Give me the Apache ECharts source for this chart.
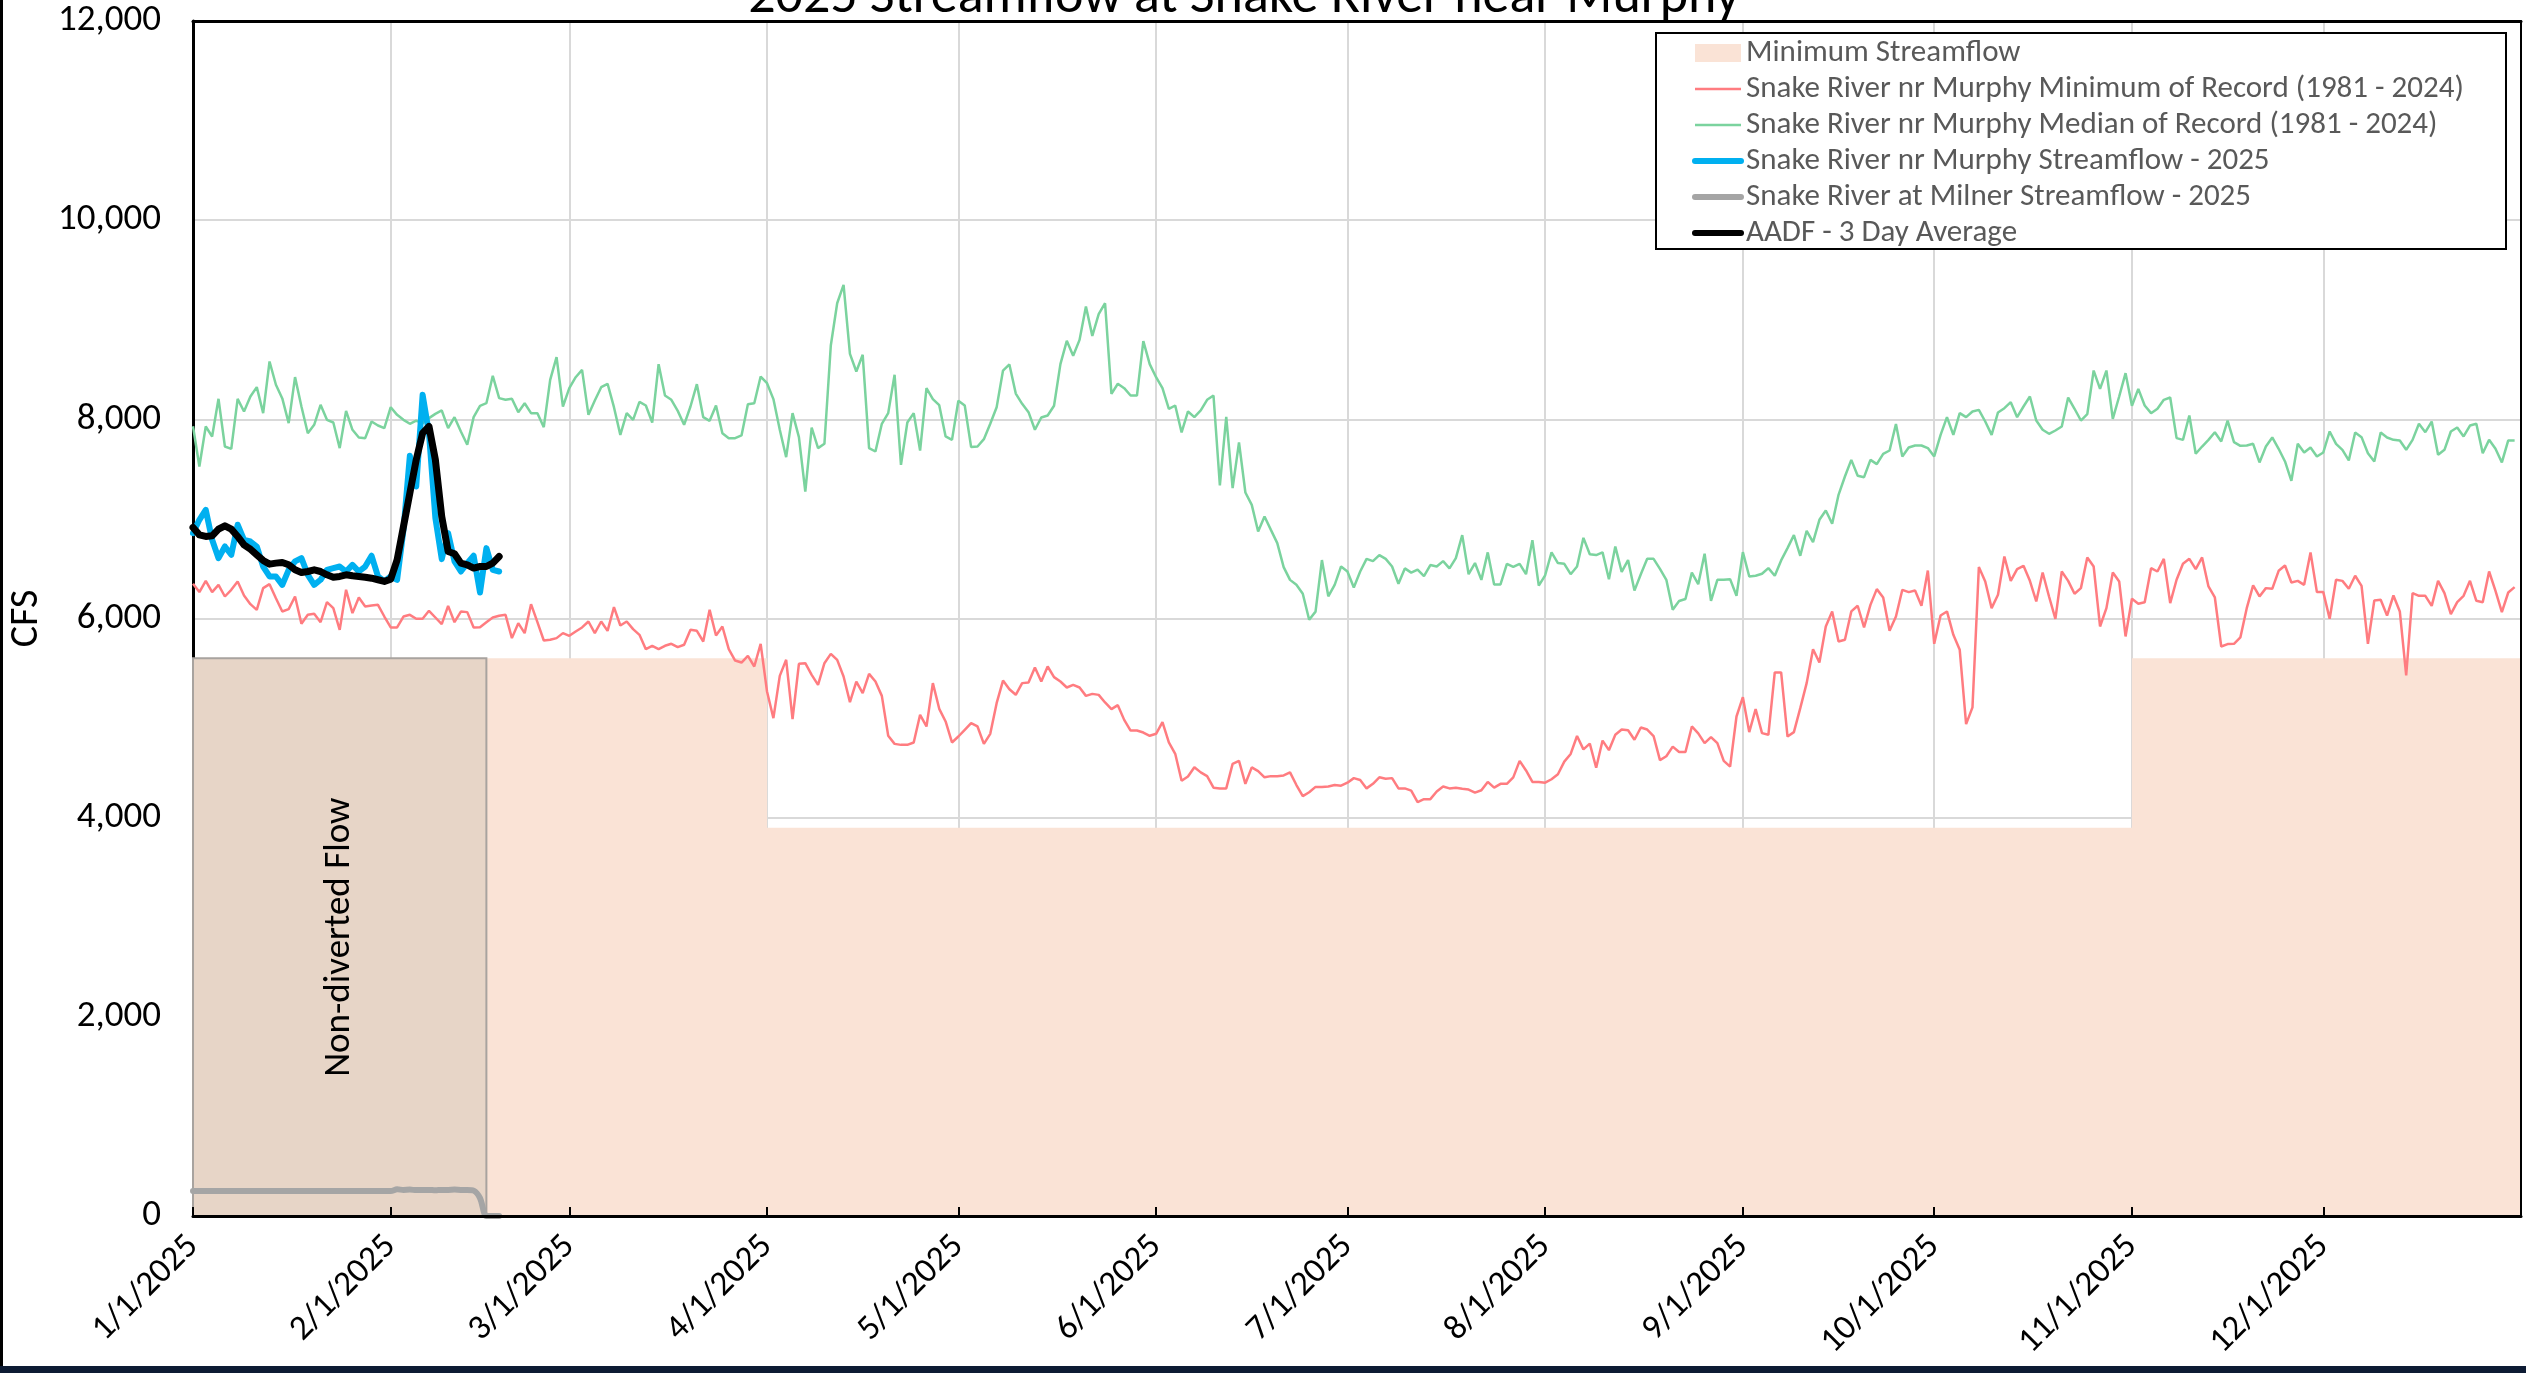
<!DOCTYPE html>
<html>
<head>
<meta charset="utf-8">
<title>2025 Streamflow at Snake River near Murphy</title>
<script src="https://cdn.jsdelivr.net/npm/echarts@6/dist/echarts.min.js"></script>
<style>
html, body { margin: 0; padding: 0; background: #fff; }
#chart { width: 2526px; height: 1373px; }
</style>
</head>
<body>
<div id="chart"></div>
<script>
// daily categories 1/1/2025 .. 1/1/2026
var dates = [];
for (var i = 0; i <= 365; i++) {
  var dt = new Date(Date.UTC(2025, 0, 1 + i));
  dates.push((dt.getUTCMonth() + 1) + "/" + dt.getUTCDate() + "/" + dt.getUTCFullYear());
}

var yTicks = [0, 2000, 4000, 6000, 8000, 10000, 12000];

// minimum streamflow requirement (step)
var minFlowDates = ["1/1/2025", "4/1/2025", "11/1/2025", "1/1/2026"];
var minFlowValues = [5600, 3900, 5600, 5600];

// non-diverted flow window
var nonDivertedStart = "1/1/2025";
var nonDivertedEnd = "2/16/2025";

// Snake River nr Murphy minimum of record (1981 - 2024), daily from 1/1
var minRecord = [
  6348, 6265, 6378, 6265, 6338, 6221, 6288, 6372, 6231, 6144, 6087, 6305, 6345, 6204, 6070, 6094, 6221, 5947, 6037, 6047,
  5963, 6164, 6104, 5886, 6288, 6054, 6211, 6121, 6131, 6137, 6020, 5910, 5910, 6020, 6037, 5997, 5997, 6077, 6010, 5943,
  6127, 5963, 6070, 6064, 5910, 5913, 5963, 6010, 6027, 6037, 5803, 5953, 5853, 6144, 5963, 5779, 5786, 5803, 5853, 5826,
  5870, 5910, 5970, 5853, 5970, 5876, 6114, 5930, 5970, 5893, 5836, 5692, 5726, 5692, 5726, 5746, 5712, 5736, 5886, 5876,
  5769, 6087, 5829, 5920, 5692, 5578, 5558, 5625, 5518, 5746, 5267, 4999, 5424, 5585, 4989, 5545, 5551, 5434, 5334, 5551,
  5645, 5585, 5418, 5160, 5367, 5250, 5444, 5367, 5223, 4822, 4741, 4731, 4731, 4755, 5033, 4916, 5351, 5093, 4966, 4755,
  4815, 4882, 4949, 4916, 4741, 4842, 5150, 5377, 5290, 5234, 5351, 5357, 5508, 5367, 5518, 5411, 5367, 5307, 5334, 5307,
  5223, 5243, 5233, 5157, 5090, 5130, 4982, 4875, 4875, 4855, 4822, 4842, 4959, 4755, 4641, 4370, 4413, 4507, 4455, 4417,
  4301, 4294, 4294, 4540, 4570, 4340, 4505, 4467, 4405, 4417, 4417, 4424, 4455, 4328, 4217, 4255, 4309, 4309, 4313, 4328,
  4321, 4351, 4397, 4378, 4294, 4340, 4405, 4390, 4397, 4294, 4294, 4271, 4156, 4186, 4186, 4263, 4313, 4294, 4301, 4290,
  4282, 4252, 4275, 4359, 4301, 4340, 4340, 4405, 4570, 4474, 4359, 4359, 4351, 4386, 4436, 4563, 4640, 4820, 4686, 4743,
  4501, 4774, 4678, 4832, 4885, 4878, 4782, 4905, 4885, 4820, 4578, 4617, 4713, 4659, 4659, 4916, 4847, 4748, 4809, 4748,
  4570, 4513, 5016, 5210, 4859, 5090, 4849, 4832, 5458, 5458, 4815, 4859, 5100, 5351, 5692, 5558, 5920, 6071, 5769, 5786,
  6071, 6128, 5910, 6137, 6295, 6211, 5876, 6020, 6288, 6265, 6281, 6127, 6482, 5746, 6030, 6071, 5836, 5686, 4939, 5107,
  6516, 6372, 6104, 6238, 6623, 6378, 6496, 6529, 6378, 6171, 6462, 6221, 5997, 6472, 6378, 6248, 6305, 6613, 6522, 5920,
  6104, 6462, 6372, 5820, 6198, 6148, 6164, 6506, 6472, 6599, 6154, 6389, 6549, 6599, 6496, 6613, 6322, 6211, 5719, 5743,
  5746, 5810, 6104, 6332, 6221, 6305, 6298, 6479, 6532, 6362, 6378, 6338, 6663, 6265, 6265, 5997, 6389, 6378, 6298, 6429,
  6328, 5746, 6181, 6188, 6030, 6231, 6071, 5428, 6255, 6228, 6228, 6127, 6378, 6255, 6044, 6164, 6228, 6378, 6178, 6164,
  6472, 6278, 6064, 6261, 6315
];

// Snake River nr Murphy median of record (1981 - 2024), daily from 1/1
var medianRecord = [
  7930, 7527, 7928, 7828, 8206, 7727, 7704, 8206, 8079, 8229, 8323, 8062, 8581, 8347, 8210, 7962, 8424, 8129, 7861, 7945,
  8146, 7995, 7968, 7711, 8085, 7895, 7818, 7811, 7978, 7938, 7911, 8122, 8045, 7995, 7955, 7988, 7960, 8012, 8055, 8089,
  7911, 8022, 7878, 7744, 8022, 8136, 8162, 8437, 8213, 8196, 8206, 8072, 8162, 8062, 8062, 7921, 8397, 8624, 8129, 8313,
  8423, 8497, 8045, 8189, 8323, 8357, 8122, 7844, 8062, 7995, 8176, 8139, 7968, 8554, 8239, 8196, 8085, 7945, 8129, 8353,
  8022, 7985, 8139, 7861, 7811, 7811, 7838, 8152, 8162, 8430, 8363, 8203, 7895, 7620, 8062, 7821, 7275, 7918, 7711, 7754,
  8741, 9166, 9350, 8658, 8480, 8648, 7711, 7677, 7955, 8062, 8447, 7543, 7968, 8062, 7687, 8313, 8203, 8142, 7828, 7794,
  8186, 8139, 7721, 7727, 7801, 7955, 8122, 8490, 8551, 8259, 8156, 8072, 7895, 8018, 8038, 8136, 8554, 8788, 8638, 8798,
  9133, 8838, 9056, 9166, 8256, 8357, 8313, 8239, 8239, 8785, 8554, 8423, 8313, 8105, 8139, 7868, 8079, 8022, 8089, 8196,
  8239, 7336, 8025, 7309, 7768, 7265, 7141, 6874, 7024, 6890, 6757, 6516, 6388, 6338, 6249, 5988, 6069, 6587, 6223, 6338,
  6522, 6472, 6311, 6472, 6599, 6576, 6637, 6599, 6522, 6349, 6503, 6461, 6491, 6426, 6537, 6522, 6576, 6503, 6607, 6837,
  6445, 6557, 6388, 6664, 6342, 6342, 6549, 6518, 6549, 6445, 6787, 6330, 6434, 6664, 6557, 6549, 6445, 6522, 6810, 6645,
  6637, 6664, 6395, 6722, 6468, 6587, 6280, 6445, 6599, 6599, 6499, 6388, 6088, 6176, 6196, 6461, 6345, 6650, 6178, 6389,
  6389, 6395, 6228, 6666, 6422, 6429, 6449, 6506, 6429, 6583, 6707, 6837, 6630, 6881, 6767, 6991, 7085, 6951, 7242, 7426,
  7593, 7433, 7419, 7593, 7550, 7654, 7687, 7952, 7627, 7717, 7737, 7737, 7711, 7627, 7844, 8022, 7844, 8062, 8022, 8079,
  8095, 7978, 7844, 8069, 8112, 8172, 8022, 8129, 8229, 7988, 7895, 7855, 7888, 7928, 8219, 8106, 7988, 8052, 8490, 8306,
  8490, 8005, 8229, 8464, 8136, 8306, 8139, 8062, 8106, 8196, 8219, 7811, 7794, 8039, 7654, 7727, 7794, 7871, 7778, 7988,
  7771, 7734, 7737, 7754, 7567, 7727, 7818, 7704, 7577, 7383, 7754, 7667, 7717, 7627, 7667, 7878, 7754, 7694, 7587, 7868,
  7821, 7660, 7577, 7868, 7818, 7794, 7788, 7694, 7794, 7955, 7871, 7978, 7644, 7694, 7878, 7918, 7828, 7938, 7955, 7660,
  7794, 7704, 7567, 7788, 7788
];

// 2025 observed, daily from 1/1
var murphy2025 = [
  6857, 6991, 7091, 6790, 6606, 6723, 6640, 6941, 6790, 6773, 6723, 6522, 6422, 6422, 6338, 6489, 6573, 6606, 6439, 6338,
  6389, 6489, 6506, 6522, 6472, 6539, 6472, 6522, 6630, 6422, 6372, 6422, 6389, 6891, 7634, 7326, 8246, 7861, 7008, 6596,
  6857, 6573, 6472, 6556, 6630, 6261, 6707, 6489, 6472
];
var milner2025 = [
  250, 250, 250, 250, 250, 250, 250, 250, 250, 250, 250, 250, 250, 250, 250, 250, 250, 250, 250, 250,
  250, 250, 250, 250, 250, 250, 250, 250, 250, 250, 250, 250, 268, 262, 265, 260, 262, 262, 258, 262,
  262, 265, 262, 262, 255, 180, 0, 0, 0
];
var aadf3Day = [
  6914, 6840, 6824, 6830, 6897, 6931, 6897, 6824, 6740, 6696, 6640, 6583, 6546, 6556, 6563, 6539, 6489, 6462, 6472, 6489,
  6472, 6439, 6415, 6422, 6439, 6429, 6422, 6415, 6405, 6389, 6372, 6395, 6589, 6924, 7259, 7594, 7861, 7928, 7594, 7024,
  6673, 6650, 6556, 6539, 6506, 6522, 6522, 6556, 6623
];

var FONT = "Carlito, Calibri, Lato, 'Open Sans', sans-serif";
var names = [
  "Minimum Streamflow",
  "Snake River nr Murphy Minimum of Record (1981 - 2024)",
  "Snake River nr Murphy Median of Record (1981 - 2024)",
  "Snake River nr Murphy Streamflow - 2025",
  "Snake River at Milner Streamflow - 2025",
  "AADF - 3 Day Average"
];
var colors = ["#FAE3D6", "#FF7C80", "#7BD39E", "#00B0F0", "#A5A5A5", "#000000"];
var widths = [0, 2.5, 2.5, 6, 6, 7];

function isMonthStart(index, value) {
  return dates[index].split("/")[1] === "1";
}

var chart = echarts.init(document.getElementById("chart"));

var legendData = names.map(function (n, k) {
  if (k === 0) return { name: n, icon: "rect", itemStyle: { color: colors[0] } };
  return { name: n, itemStyle: { opacity: 0 }, lineStyle: { width: Math.min(widths[k], 6), color: colors[k] } };
});

var option = {
  animation: false,
  backgroundColor: "#fff",
  textStyle: { fontFamily: FONT },
  grid: { left: 193, right: 5, top: 21, bottom: 157, containLabel: false, outerBoundsMode: "none" },
  legend: {
    orient: "vertical",
    left: 1692,
    top: 37,
    z: 10,
    itemWidth: 46,
    itemHeight: 18,
    itemGap: 4,
    padding: 0,
    selectedMode: false,
    textStyle: { fontSize: 31, color: "#595959", fontFamily: FONT, lineHeight: 32 },
    data: legendData
  },
  graphic: [
    {
      type: "rect", z: 3,
      shape: { x: 1656, y: 33, width: 850, height: 216 },
      style: { fill: "#fff", stroke: "#000", lineWidth: 2 }
    },
    {
      type: "text", z: 3, x: 1244, y: 25,
      style: {
        text: "2025 Streamflow at Snake River near Murphy",
        fontSize: 54, fontFamily: FONT, fill: "#000",
        align: "center", verticalAlign: "bottom"
      }
    },
    { type: "rect", shape: { x: 0, y: 0, width: 3, height: 1373 }, style: { fill: "#000" } },
    { type: "rect", shape: { x: 0, y: 1366, width: 2526, height: 7 }, style: { fill: "#0D1B33" } }
  ],
  xAxis: [
    {
      type: "category", data: dates, boundaryGap: false, position: "bottom",
      axisLine: { show: false, onZero: false },
      axisTick: { show: false },
      axisLabel: { show: false },
      splitLine: { show: true, interval: isMonthStart, lineStyle: { color: "#D9D9D9", width: 2 } }
    },
    {
      type: "category", data: dates, boundaryGap: false, position: "bottom", z: 5,
      axisLine: { show: true, onZero: false, lineStyle: { color: "#000", width: 3 } },
      axisTick: { show: true, inside: true, length: 9, interval: isMonthStart, lineStyle: { color: "#000", width: 2 } },
      axisLabel: {
        show: true, rotate: 45, margin: 25, fontSize: 35, color: "#000", fontFamily: FONT,
        interval: function (index, value) { return isMonthStart(index) && index < 365; }
      },
      splitLine: { show: false }
    },
    {
      type: "category", data: dates, boundaryGap: false, position: "top", z: 5,
      axisLine: { show: true, onZero: false, lineStyle: { color: "#000", width: 3 } },
      axisTick: { show: false }, axisLabel: { show: false }, splitLine: { show: false }
    }
  ],
  yAxis: [
    {
      type: "value", min: yTicks[0], max: yTicks[yTicks.length - 1], interval: 2000,
      name: "CFS", nameLocation: "middle", nameRotate: 90, nameGap: 125,
      nameTextStyle: { fontSize: 40, color: "#000", fontFamily: FONT },
      axisLine: { show: true, onZero: false, lineStyle: { color: "#000", width: 3 } },
      axisTick: { show: false },
      axisLabel: {
        fontSize: 37, color: "#000", margin: 32, fontFamily: FONT,
        formatter: function (v) { return v.toLocaleString("en-US"); }
      },
      splitLine: { show: true, lineStyle: { color: "#D9D9D9", width: 2 } }
    },
    {
      type: "value", min: yTicks[0], max: yTicks[yTicks.length - 1], position: "right", z: 5,
      axisLine: { show: true, onZero: false, lineStyle: { color: "#000", width: 2 } },
      axisTick: { show: false }, axisLabel: { show: false }, splitLine: { show: false }
    }
  ],
  series: [
    {
      name: names[0], type: "line", step: "end", symbol: "none", z: 0.8,
      data: minFlowDates.map(function (d, k) { return [d, minFlowValues[k]]; }),
      lineStyle: { width: 0, color: colors[0] },
      itemStyle: { color: colors[0] },
      areaStyle: { color: colors[0], opacity: 1 }
    },
    {
      name: names[1], type: "line", symbol: "none", data: minRecord,
      itemStyle: { color: colors[1] },
      lineStyle: { color: colors[1], width: widths[1] }
    },
    {
      name: names[2], type: "line", symbol: "none", data: medianRecord,
      itemStyle: { color: colors[2] },
      lineStyle: { color: colors[2], width: widths[2] }
    },
    {
      name: names[3], type: "line", symbol: "none", data: murphy2025,
      itemStyle: { color: colors[3] },
      lineStyle: { color: colors[3], width: widths[3], join: "round", cap: "round" }
    },
    {
      name: names[4], type: "line", symbol: "none", data: milner2025, smooth: 0.3,
      itemStyle: { color: colors[4] },
      lineStyle: { color: colors[4], width: widths[4], join: "round", cap: "round" },
      markArea: {
        silent: true, z: 1.2,
        itemStyle: { color: "#E7D5C7", borderColor: "#A8A39F", borderWidth: 2 },
        label: {
          show: true, position: "inside", rotate: 90,
          formatter: "Non-diverted Flow", fontSize: 37, color: "#000", fontFamily: FONT
        },
        data: [[{ xAxis: nonDivertedStart, yAxis: 0 }, { xAxis: nonDivertedEnd, yAxis: minFlowValues[0] }]]
      }
    },
    {
      name: names[5], type: "line", symbol: "none", data: aadf3Day,
      itemStyle: { color: colors[5] },
      lineStyle: { color: colors[5], width: widths[5], join: "round", cap: "round" }
    }
  ]
};

chart.setOption(option);
window.addEventListener("resize", function () {
  chart.resize();
});
</script>
</body>
</html>
